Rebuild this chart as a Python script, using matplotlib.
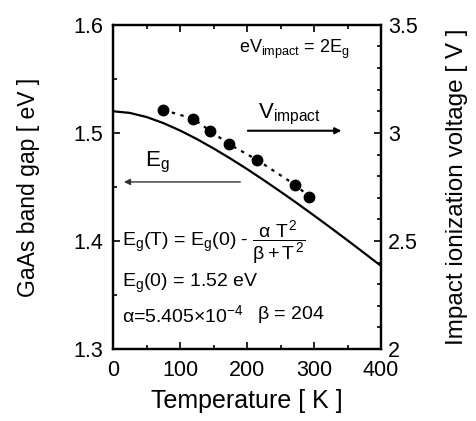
import numpy as np
import matplotlib
matplotlib.use("Agg")
import matplotlib.pyplot as plt
from matplotlib.ticker import MultipleLocator, FormatStrFormatter, FuncFormatter

plt.rcParams['font.family'] = ['Liberation Sans', 'DejaVu Sans']
plt.rcParams['mathtext.fontset'] = 'custom'
plt.rcParams['mathtext.rm'] = 'Liberation Sans'
plt.rcParams['mathtext.it'] = 'Liberation Sans'
plt.rcParams['mathtext.bf'] = 'Liberation Sans'

# === band gap curve ===
temp_curve = [0, 25, 50, 75, 100, 125, 150, 175, 200, 225, 250, 275, 300, 325, 350, 375, 400]
eg_curve = [1.520, 1.5185, 1.5147, 1.5091, 1.5022, 1.4943, 1.4856, 1.4763, 1.4665,
            1.4562, 1.4456, 1.4347, 1.4235, 1.4121, 1.4005, 1.3887, 1.3768]

# === measured impact ionization voltage ===
temp_pts = [75, 120, 145, 173, 215, 272, 293]
v_impact = [3.106, 3.065, 3.009, 2.948, 2.875, 2.759, 2.705]

fig = plt.figure(figsize=(4.77, 4.21), dpi=100)
ax = fig.add_axes([0.237, 0.171, 0.562, 0.770])
ax2 = ax.twinx()

ax.plot(temp_curve, eg_curve, color='black', lw=1.6)
ax2.plot(temp_pts, v_impact, color='black', lw=1.6, ls=(0, (1.5, 2.5)),
         marker='o', ms=7.5)

ax.set_xlim(0, 400)
ax.set_ylim(1.3, 1.6)
ax2.set_ylim(2, 3.5)

ax.xaxis.set_major_locator(MultipleLocator(100))
ax.xaxis.set_minor_locator(MultipleLocator(50))
ax.yaxis.set_major_locator(MultipleLocator(0.1))
ax.yaxis.set_minor_locator(MultipleLocator(0.05))
ax2.yaxis.set_major_locator(MultipleLocator(0.5))
ax2.yaxis.set_minor_locator(MultipleLocator(0.1))

ax.tick_params(which='both', direction='in', top=True, labelsize=15.5, width=1.2)
ax.tick_params(axis='x', which='major', pad=8)
ax.tick_params(axis='y', which='major', pad=7)
ax.tick_params(which='major', length=5)
ax.tick_params(which='minor', length=3)
ax2.tick_params(which='both', direction='in', labelsize=15.5, width=1.2)
ax2.tick_params(which='major', length=5, pad=5)
ax2.tick_params(which='minor', length=3)
ax.yaxis.set_major_formatter(FormatStrFormatter('%.1f'))
ax2.yaxis.set_major_formatter(FuncFormatter(lambda v, p: f'{v:g}'))

for sp in ax.spines.values():
    sp.set_linewidth(1.6)
for sp in ax2.spines.values():
    sp.set_linewidth(1.6)

ax.set_xlabel('Temperature [ K ]', fontsize=18, labelpad=6)
ax.set_ylabel('GaAs band gap [ eV ]', fontsize=16.5, labelpad=24)
ax2.set_ylabel('Impact ionization voltage [ V ]', fontsize=17.5, labelpad=20)

# annotations
ax.text(270, 1.577, r'eV$_{\rm impact}$ = 2E$_{\rm g}$', fontsize=13, ha='center', va='center')
ax.text(263, 1.517, r'V$_{\rm impact}$', fontsize=16, ha='center', va='center')
ax.annotate('', xy=(345, 1.502), xytext=(197, 1.502),
            arrowprops=dict(arrowstyle='-|>', color='black', lw=1.5, mutation_scale=9))
ax.text(66, 1.473, r'E$_{\rm g}$', fontsize=16, ha='center', va='center')
ax.annotate('', xy=(12, 1.4546), xytext=(194, 1.4546),
            arrowprops=dict(arrowstyle='-|>', color='#333333', lw=1.0, mutation_scale=9))

ax.text(14, 1.398, r'E$_{\rm g}$(T) = E$_{\rm g}$(0) - $\dfrac{\alpha\ T^2}{\beta + T^2}$',
        fontsize=14, ha='left', va='center')
ax.text(14, 1.361, r'E$_{\rm g}$(0) = 1.52 eV', fontsize=14, ha='left', va='center')
ax.text(14, 1.3315, r'$\alpha$=5.405$\times$10$^{-4}$', fontsize=14, ha='left', va='center')
ax.text(215, 1.3315, r'$\beta$ = 204', fontsize=14, ha='left', va='center')

fig.savefig('out.png', dpi=100)
